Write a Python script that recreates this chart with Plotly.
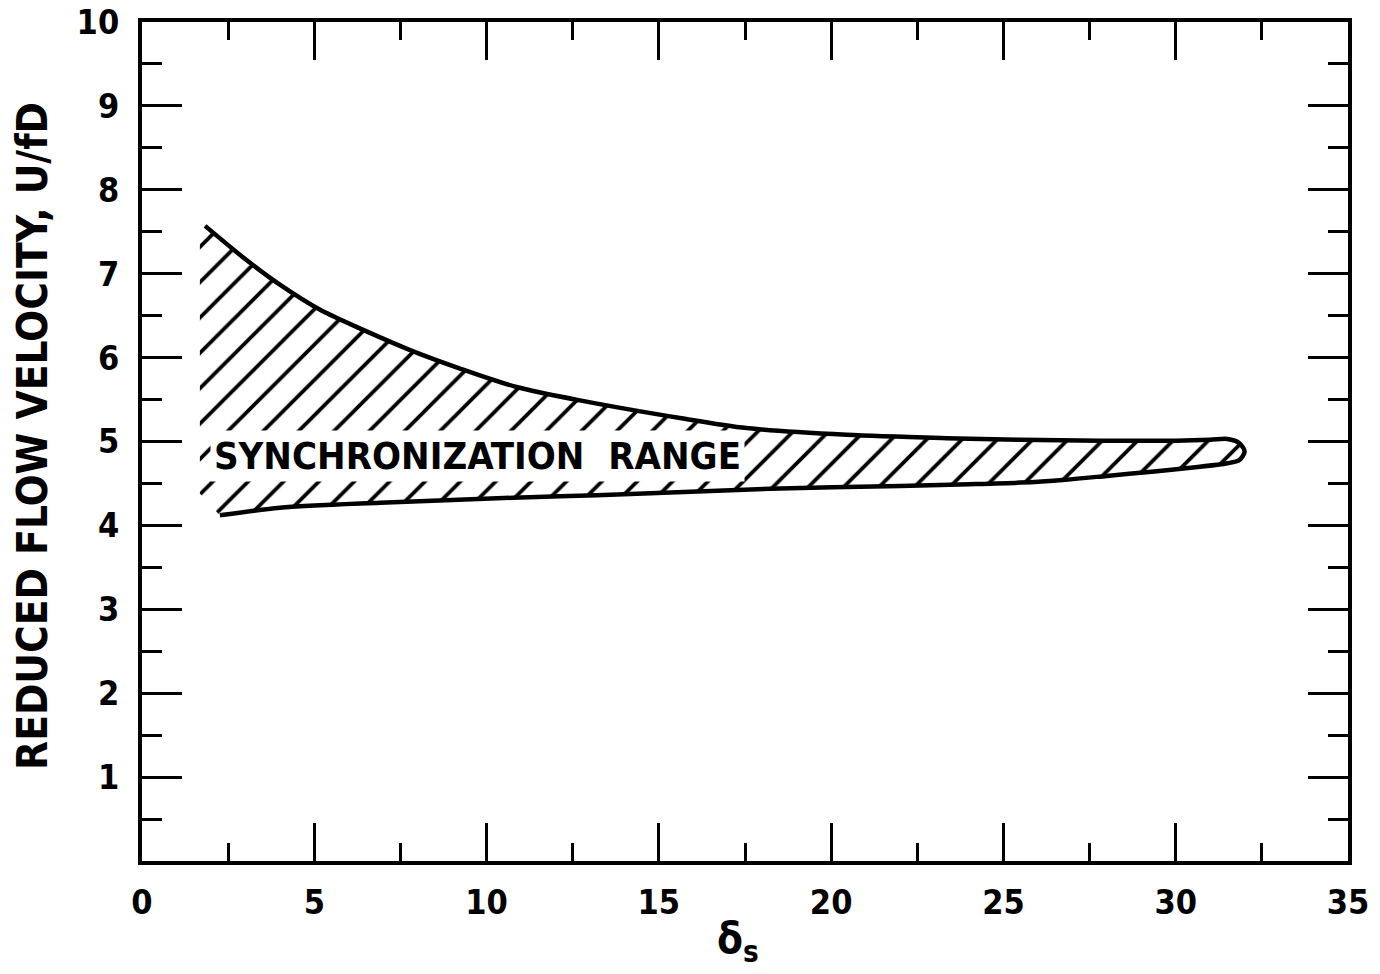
import plotly.graph_objects as go

# upper boundary of the synchronization range
upper_x = [1.83, 3.04, 4.0, 5.17, 6.42, 7.78, 9.23, 10.87, 12.71, 15.61, 17.55, 20.45, 23.35, 25.48, 27.8, 30.0, 31.0, 31.5]
upper_y = [7.57, 7.16, 6.87, 6.57, 6.33, 6.09, 5.87, 5.65, 5.49, 5.28, 5.16, 5.08, 5.04, 5.02, 5.01, 5.01, 5.02, 5.03]

# rounded tip at the right end
tip_x = [31.85, 32.0, 31.85]
tip_y = [4.98, 4.88, 4.78]

# lower boundary
lower_x = [2.26, 4.0, 6.91, 10.77, 13.2, 18.51, 22.0, 24.0, 25.5, 26.8, 28.0, 29.3, 30.5, 31.5]
lower_y = [4.12, 4.21, 4.27, 4.33, 4.36, 4.44, 4.47, 4.49, 4.51, 4.545, 4.59, 4.64, 4.69, 4.74]

# open left edge of the hatching (no line drawn there)
edge_x = [1.68, 1.68]
edge_y = [4.38, 7.45]

x_ticks = [0, 5, 10, 15, 20, 25, 30, 35]
y_ticks = [1, 2, 3, 4, 5, 6, 7, 8, 9, 10]

FONT = "DejaVu Sans Condensed"

curve_x = upper_x + tip_x + lower_x[::-1]
curve_y = upper_y + tip_y + lower_y[::-1]

fig = go.Figure()

# hatched region
fig.add_trace(go.Scatter(
    x=curve_x + edge_x,
    y=curve_y + edge_y,
    mode="lines",
    fill="toself",
    fillcolor="white",
    fillpattern=dict(shape="/", fgcolor="black", fgopacity=1, bgcolor="white", size=25, solidity=0.15),
    line=dict(width=0, color="rgba(0,0,0,0)"),
    hoverinfo="skip",
    showlegend=False,
))

# boundary curve
fig.add_trace(go.Scatter(
    x=curve_x,
    y=curve_y,
    mode="lines",
    line=dict(color="black", width=4.5, shape="spline", smoothing=0.8),
    showlegend=False,
))

fig.add_annotation(
    x=9.75, y=4.83,
    text="SYNCHRONIZATION  RANGE",
    showarrow=False,
    font=dict(family=FONT, size=38, color="black", weight="bold"),
    bgcolor="white",
    borderpad=3,
)

# axis titles
fig.add_annotation(
    text="REDUCED FLOW VELOCITY, U/fD",
    xref="paper", yref="paper",
    x=-0.0904, y=0.5066,
    xanchor="center", yanchor="middle",
    textangle=-90,
    showarrow=False,
    font=dict(family=FONT, size=42, color="black", weight="bold"),
)
fig.add_annotation(
    text="δ<sub>s</sub>",
    xref="paper", yref="paper",
    x=0.494, y=-0.096,
    xanchor="center", yanchor="middle",
    showarrow=False,
    font=dict(family=FONT, size=42, color="black", weight="bold"),
)

fig.update_xaxes(
    range=[0, 35],
    tickvals=x_ticks,
    ticks="inside", ticklen=38, tickwidth=3, tickcolor="black",
    minor=dict(dtick=2.5, ticks="inside", ticklen=18, tickwidth=3, tickcolor="black", showgrid=False),
    showline=True, linewidth=4, linecolor="black", mirror="ticks",
    showgrid=False, zeroline=False,
    tickfont=dict(family=FONT, size=34, color="black", weight="bold"),
    ticklabelstandoff=8,
    ticklabeloverflow="allow",
    automargin=False,
)
fig.update_yaxes(
    range=[0, 10],
    tickvals=y_ticks,
    ticks="inside", ticklen=40, tickwidth=3, tickcolor="black",
    minor=dict(dtick=0.5, ticks="inside", ticklen=20, tickwidth=3, tickcolor="black", showgrid=False),
    showline=True, linewidth=4, linecolor="black", mirror="ticks",
    showgrid=False, zeroline=False,
    tickfont=dict(family=FONT, size=34, color="black", weight="bold"),
    ticklabelstandoff=12,
    ticklabeloverflow="allow",
    automargin=False,
)

fig.update_layout(
    width=1380, height=974,
    margin=dict(l=142, r=32, t=22, b=113),
    plot_bgcolor="white",
    paper_bgcolor="white",
    showlegend=False,
)

# drop the default 8 px body margin so the figure fills the window exactly
fig.write_html(
    "out.html",
    config={"displayModeBar": False},
    post_script="document.body.style.margin = '0';",
)
